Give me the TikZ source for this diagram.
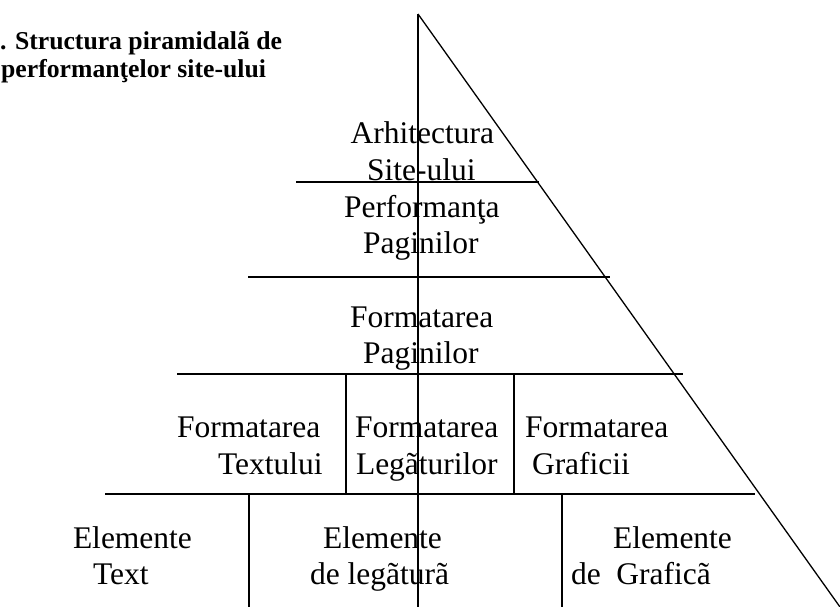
\documentclass[tikz,border=0pt]{standalone}
\usepackage{fontspec}
\setmainfont{Liberation Serif}
\begin{document}
\begin{tikzpicture}[x=1pt,y=-1pt,
  ln/.style={line width=1.3pt,line cap=rect},
  lbl/.style={inner sep=0pt,outer sep=0pt,anchor=base west,font=\fontsize{31.5}{37}\selectfont},
  ttl/.style={inner sep=0pt,outer sep=0pt,anchor=base east,font=\fontsize{25.7}{28}\selectfont\bfseries}]
\useasboundingbox (0,0) rectangle (840,607);
% frame points
\coordinate (apex) at (418,14);
\coordinate (vbot) at (418,607);
\coordinate (dbot) at (840,607);
\coordinate (l1a) at (297,182); \coordinate (l1b) at (538,182);
\coordinate (l2a) at (249,277); \coordinate (l2b) at (609,277);
\coordinate (l3a) at (178,374); \coordinate (l3b) at (682,374);
\coordinate (l4a) at (106,494); \coordinate (l4b) at (754,494);
\coordinate (v1a) at (346,374); \coordinate (v1b) at (346,494);
\coordinate (v2a) at (514,374); \coordinate (v2b) at (514,494);
\coordinate (v3a) at (249,494); \coordinate (v3b) at (249,607);
\coordinate (v4a) at (562,494); \coordinate (v4b) at (562,607);
\draw[ln,line cap=butt] (apex) -- (vbot);
\draw[ln,line cap=butt] (apex) -- (dbot);
\draw[ln] (l1a) -- (l1b);
\draw[ln] (l2a) -- (l2b);
\draw[ln] (l3a) -- (l3b);
\draw[ln] (l4a) -- (l4b);
\draw[ln] (v1a) -- (v1b);
\draw[ln] (v2a) -- (v2b);
\draw[ln,line cap=butt] (v3a) -- (v3b);
\draw[ln,line cap=butt] (v4a) -- (v4b);
% title
\node[ttl] (t1) at (282,50) {3. Structura piramidalã de};
\node[ttl] (t2) at (266,78) {performanţelor site-ului};
% labels
\node[lbl] (a1) at (350.7,143) {Arhitectura};
\node[lbl] (a2) at (367,180) {Site-ului};
\node[lbl] (p1) at (344,217) {Performanţa};
\node[lbl] (p2) at (363,253) {Paginilor};
\node[lbl] (f1) at (350,327) {Formatarea};
\node[lbl] (f2) at (363,363) {Paginilor};
\node[lbl] (ft1) at (177,437) {Formatarea};
\node[lbl] (ft2) at (218,474) {Textului};
\node[lbl] (fl1) at (355,437) {Formatarea};
\node[lbl] (fl2) at (356,474) {Legãturilor};
\node[lbl] (fg1) at (525,437) {Formatarea};
\node[lbl] (fg2) at (532,474) {Graficii};
\node[lbl] (et1) at (73,548) {Elemente};
\node[lbl] (et2) at (93,584) {Text};
\node[lbl] (el1) at (323,548) {Elemente};
\node[lbl] (el2) at (310,584) {de legãturã};
\node[lbl] (eg1) at (613,548) {Elemente};
\node[lbl] (eg2) at (571,584) {de~~Graficã};
\end{tikzpicture}
\end{document}
